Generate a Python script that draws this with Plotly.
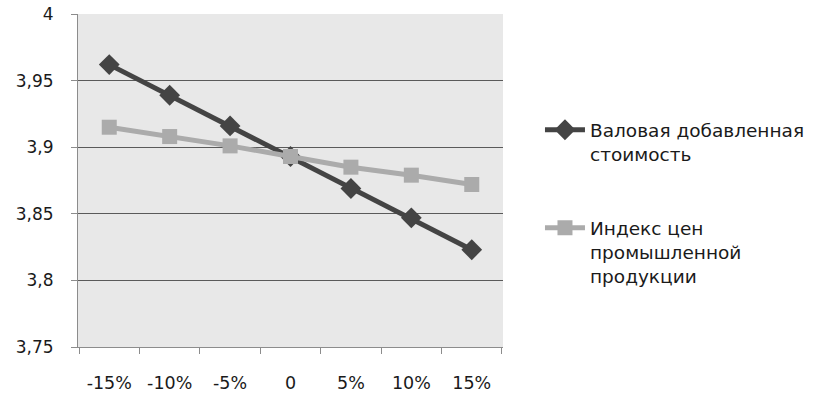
import plotly.graph_objects as go

categories = ["-15%", "-10%", "-5%", "0", "5%", "10%", "15%"]
vds = [3.962, 3.939, 3.916, 3.893, 3.869, 3.847, 3.823]
ipc = [3.915, 3.908, 3.901, 3.893, 3.885, 3.879, 3.872]
y_ticks = [3.75, 3.8, 3.85, 3.9, 3.95, 4]
y_ticktext = ["3,75", "3,8", "3,85", "3,9", "3,95", "4"]
names = ["Валовая добавленная<br>стоимость", "Индекс цен<br>промышленной<br>продукции"]

FONT = "DejaVu Sans"
fig = go.Figure()
fig.add_trace(go.Scatter(
    x=categories, y=vds, name=names[0], mode="lines+markers",
    line=dict(color="#444444", width=5),
    marker=dict(symbol="diamond", size=16, color="#444444"),
    legendgroup="a",
))
fig.add_trace(go.Scatter(
    x=categories, y=ipc, name=names[1], mode="lines+markers",
    line=dict(color="#ababab", width=5),
    marker=dict(symbol="square", size=15, color="#ababab"),
    legendgroup="b",
))
fig.update_layout(
    width=819, height=410,
    margin=dict(l=78, r=316, t=14, b=63, autoexpand=False),
    paper_bgcolor="white", plot_bgcolor="#e8e8e8",
    font=dict(family=FONT, size=17, color="#1a1a1a"),
    legend=dict(x=1.087, y=0.708, xanchor="left", yanchor="top",
                traceorder="grouped", tracegroupgap=47, valign="top",
                font=dict(size=18.5), itemwidth=40),
    showlegend=True,
)
fig.update_xaxes(type="category", showgrid=False, showline=True, linecolor="#8c8c8c",
                 linewidth=1, ticks="outside", tickson="boundaries", ticklen=6,
                 tickcolor="#8c8c8c", tickfont=dict(size=17.5), zeroline=False,
                 automargin=False, ticklabelstandoff=20)
fig.update_yaxes(range=[3.75, 4], tickvals=y_ticks, ticktext=y_ticktext,
                 showgrid=True, gridcolor="#5a5a5a", gridwidth=1,
                 showline=True, linecolor="#8c8c8c", linewidth=1,
                 ticks="outside", ticklen=6, tickcolor="#8c8c8c",
                 tickfont=dict(size=17), zeroline=False, automargin=False,
                 ticklabelstandoff=14)
fig.write_html("out.html", config={"displayModeBar": False},
               post_script="document.body.style.margin='0';")
